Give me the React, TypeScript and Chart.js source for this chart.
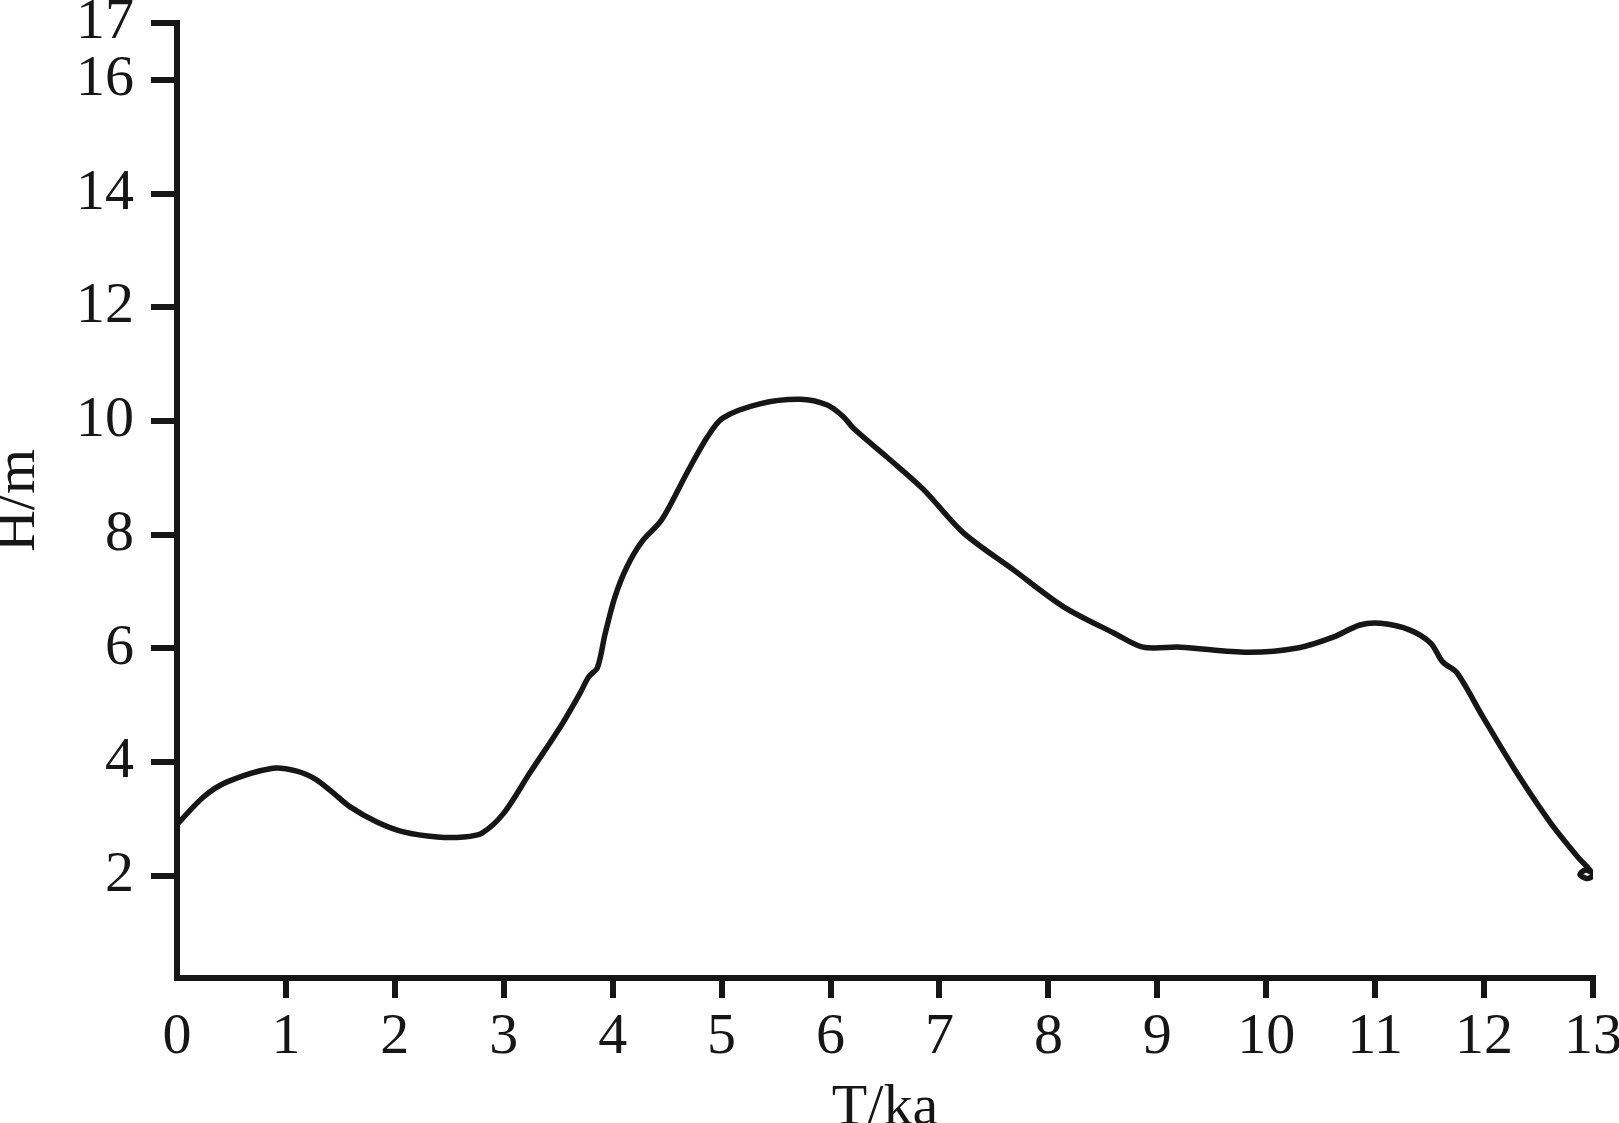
import React, { useEffect, useRef } from "react";
import { Chart, registerables } from "chart.js";

Chart.register(...registerables);

const timeKa: number[] = [
  0.0, 0.24, 0.46, 0.88, 1.1, 1.27, 1.42, 1.59, 1.84, 2.08, 2.39, 2.63, 2.8, 3.0, 3.24,
  3.52, 3.7, 3.78, 3.86, 3.93, 4.02, 4.13, 4.27, 4.45, 4.68, 4.87, 5.01, 5.35, 5.72,
  5.97, 6.12, 6.21, 6.52, 6.85, 7.22, 7.68, 8.14, 8.6, 8.87, 9.21, 9.83, 10.3, 10.62,
  10.86, 11.05, 11.32, 11.51, 11.62, 11.75, 11.99, 12.3, 12.61, 12.86, 12.97, 13.0,
  12.94, 12.88, 12.93, 12.99,
];
const heightM: number[] = [
  2.9, 3.38, 3.65, 3.89, 3.84, 3.7, 3.48, 3.21, 2.94, 2.77, 2.68, 2.68, 2.75, 3.1, 3.81,
  4.62, 5.21, 5.5, 5.66, 6.25, 6.9, 7.43, 7.88, 8.26, 9.08, 9.72, 10.05, 10.3, 10.38,
  10.28, 10.07, 9.87, 9.36, 8.8, 8.03, 7.38, 6.73, 6.27, 6.02, 6.02, 5.93, 6.01, 6.2,
  6.41, 6.44, 6.32, 6.09, 5.76, 5.57, 4.79, 3.81, 2.93, 2.33, 2.1, 2.0,
  1.95, 2.02, 2.1, 2.06,
];
const yTickValues: number[] = [2, 4, 6, 8, 10, 12, 14, 16, 17];
const xTickValues: number[] = [0, 1, 2, 3, 4, 5, 6, 7, 8, 9, 10, 11, 12, 13];

const INK = "#161616";
const FONT = "'Liberation Serif', 'Times New Roman', serif";

export default function App() {
  const ref = useRef<HTMLCanvasElement | null>(null);

  useEffect(() => {
    if (!ref.current) return;
    const points = timeKa.map((x, i) => ({ x, y: heightM[i] }));
    const chart = new Chart(ref.current, {
      type: "line",
      data: {
        datasets: [
          {
            data: points,
            borderColor: INK,
            borderWidth: 5.5,
            pointRadius: 0,
            tension: 0.3,
            fill: false,
          },
        ],
      },
      options: {
        animation: false,
        responsive: true,
        maintainAspectRatio: false,
        layout: { padding: { left: 0, right: 26, top: 23, bottom: 0 } },
        plugins: { legend: { display: false }, tooltip: { enabled: false } },
        scales: {
          x: {
            type: "linear",
            min: 0,
            max: 13,
            afterBuildTicks: (scale: any) => {
              scale.ticks = xTickValues.map((v) => ({ value: v }));
            },
            afterFit: (scale: any) => {
              scale.height = 145;
              scale.paddingLeft = 0;
              scale.paddingRight = 0;
            },
            border: { display: true, color: INK, width: 6 },
            grid: {
              drawOnChartArea: false,
              drawTicks: true,
              tickLength: 20,
              lineWidth: 6,
              color: (ctx: any) => (ctx.tick && ctx.tick.value === 0 ? "rgba(0,0,0,0)" : INK),
            },
            ticks: {
              color: INK,
              padding: 5,
              maxRotation: 0,
              autoSkip: false,
              font: { family: FONT, size: 58 },
              callback: (v: any) => String(v),
            },
            title: {
              display: true,
              text: "T/ka",
              color: INK,
              padding: 0,
              font: { family: FONT, size: 58, lineHeight: 0.5 },
            },
          },
          y: {
            type: "linear",
            min: 0.2,
            max: 17,
            afterBuildTicks: (scale: any) => {
              scale.ticks = yTickValues.map((v) => ({ value: v }));
            },
            afterFit: (scale: any) => {
              scale.width = 177;
              scale.paddingTop = 0;
              scale.paddingBottom = 0;
            },
            border: { display: true, color: INK, width: 6 },
            grid: {
              drawOnChartArea: false,
              drawTicks: true,
              tickLength: 26,
              lineWidth: 6,
              color: INK,
            },
            ticks: {
              color: INK,
              padding: 17,
              autoSkip: false,
              font: { family: FONT, size: 58 },
              callback: (v: any) => String(v),
            },
            title: {
              display: true,
              text: "H/m",
              color: INK,
              padding: 0,
              font: { family: FONT, size: 58, lineHeight: 0.66 },
            },
          },
        },
      },
    });
    return () => chart.destroy();
  }, []);

  return (
    <div
      style={{
        position: "fixed",
        left: 0,
        top: 0,
        width: "1619px",
        height: "1123px",
        background: "#ffffff",
        overflow: "hidden",
      }}
    >
      <canvas ref={ref} style={{ display: "block" }} />
    </div>
  );
}
